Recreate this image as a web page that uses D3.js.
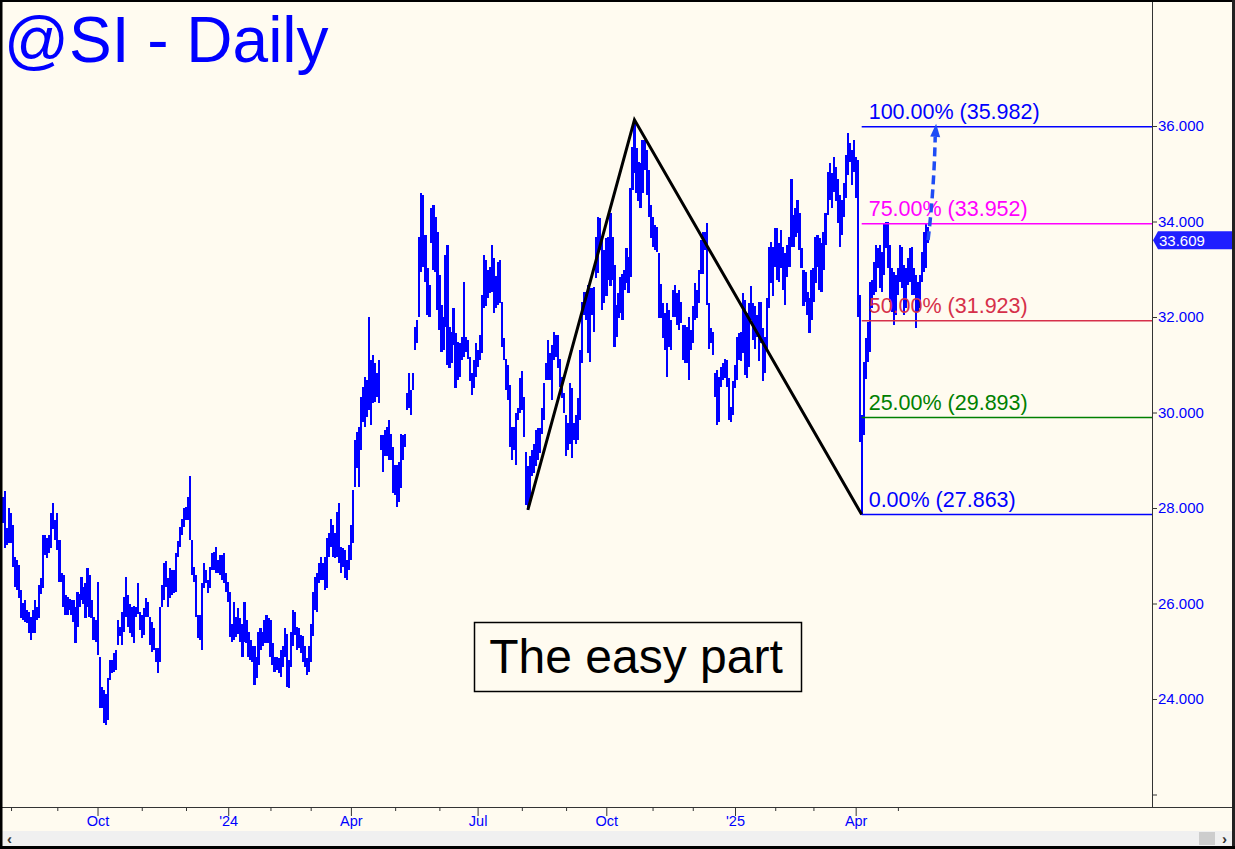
<!DOCTYPE html>
<html>
<head>
<meta charset="utf-8">
<script src="https://cdn.jsdelivr.net/npm/d3@7"></script>
<style>
  body { margin: 0; background: #fffbf0; overflow: hidden; }
  svg { display: block; }
  text { font-family: "Liberation Sans", Arial, sans-serif; }
</style>
</head>
<body>
<div id="chart"></div>
<script>
// ---- data ----
const startDate = "2023-07-26";
// sessions with no daily bar
const holidays = ["2023-09-04", "2024-01-01", "2024-01-15", "2024-02-19", "2024-03-29",
  "2024-05-27", "2024-06-19", "2024-07-04", "2024-09-02", "2024-11-28", "2024-12-25",
  "2025-01-01", "2025-01-09", "2025-01-20", "2025-02-17", "2025-04-18"];

const hi = [
  28.24, 28.36, 27.58, 28.00, 27.90, 27.64, 26.97, 26.91, 26.81, 26.28,
  26.01, 26.07, 25.86, 25.82, 25.72, 25.86, 26.07, 25.93, 26.39, 26.53,
  27.43, 27.43, 27.37, 27.43, 27.90, 28.10, 27.75, 27.90, 27.33, 26.63,
  26.60, 26.18, 26.14, 26.10, 26.07, 26.07, 25.93, 26.24, 26.20, 26.56,
  26.35, 26.42, 26.74, 26.60, 26.07, 25.72, 25.65, 26.45, 24.88, 24.25,
  24.18, 24.11, 24.44, 24.82, 24.82, 24.96, 25.03, 25.65, 25.51, 25.82,
  26.14, 26.56, 26.18, 26.00, 25.93, 25.95, 25.93, 26.42, 25.83, 25.76,
  25.90, 26.11, 26.04, 25.72, 25.62, 25.48, 25.06, 25.06, 25.93, 26.39,
  26.84, 26.88, 26.53, 26.74, 26.70, 26.70, 27.05, 27.30, 27.61, 27.78,
  27.99, 28.03, 28.24, 28.66, 27.33, 26.77, 26.60, 25.76, 25.76, 26.42,
  26.84, 26.70, 26.49, 26.77, 27.05, 27.08, 27.19, 26.91, 27.01, 27.01,
  27.05, 26.63, 26.46, 26.25, 25.58, 26.04, 25.72, 25.90, 25.69, 25.58,
  26.04, 25.65, 25.41, 25.24, 25.10, 25.10, 24.89, 25.41, 25.48, 25.41,
  25.65, 25.76, 25.69, 25.65, 25.17, 24.89, 24.89, 24.85, 25.03, 25.10,
  25.48, 25.37, 24.82, 25.41, 25.86, 25.83, 25.51, 25.48, 25.34, 25.31,
  25.10, 24.85, 25.10, 25.58, 26.25, 26.56, 26.63, 26.84, 26.98, 26.84,
  26.98, 27.37, 27.47, 27.78, 27.64, 27.47, 27.92, 28.10, 27.19, 27.16,
  27.12, 26.91, 27.23, 27.64, 28.38, 29.42, 29.60, 29.70, 30.33, 30.54,
  30.75, 30.68, 32.00, 31.10, 31.20, 31.03, 30.82, 31.10, 29.53, 29.53,
  29.63, 29.70, 29.84, 29.56, 29.28, 28.90, 28.90, 28.97, 29.56, 29.53,
  29.56, 30.40, 30.82, 30.47, 30.82, 31.80, 31.94, 33.68, 34.59, 34.55,
  33.72, 33.02, 32.67, 34.28, 34.35, 34.10, 33.79, 32.88, 32.25, 32.01,
  33.30, 33.51, 31.80, 31.69, 32.18, 31.66, 31.48, 31.45, 31.59, 32.74,
  31.59, 31.52, 31.17, 30.82, 31.10, 31.45, 31.31, 31.62, 32.46, 33.30,
  33.20, 32.98, 33.05, 33.51, 33.23, 32.85, 33.16, 33.20, 32.32, 31.55,
  31.13, 30.99, 30.58, 29.70, 29.70, 29.98, 30.09, 30.72, 30.86, 30.33,
  29.18, 28.87, 29.08, 29.22, 29.35, 29.63, 29.67, 29.67, 30.09, 30.61,
  31.03, 31.52, 31.24, 31.41, 31.69, 31.62, 31.62, 31.13, 30.75, 30.40,
  29.95, 29.77, 30.61, 30.51, 29.77, 29.95, 30.30, 31.31, 32.32, 32.53,
  32.53, 32.67, 32.60, 32.60, 32.63, 33.68, 34.10, 34.07, 33.65, 33.40,
  33.65, 33.68, 34.17, 33.68, 33.09, 32.25, 32.50, 32.84, 32.91, 32.98,
  33.44, 33.26, 34.70, 35.57, 36.13, 35.53, 35.25, 35.22, 35.71, 35.71,
  35.50, 35.08, 34.34, 34.10, 33.93, 33.89, 33.33, 32.70, 32.29, 32.08,
  32.29, 32.15, 31.94, 32.57, 32.67, 32.50, 32.57, 32.32, 31.83, 31.83,
  31.80, 32.01, 31.73, 32.22, 32.71, 32.57, 32.98, 33.61, 33.79, 33.79,
  33.96, 32.29, 31.76, 31.69, 30.82, 30.89, 30.75, 30.96, 31.03, 31.13,
  31.10, 30.72, 30.12, 30.65, 31.00, 31.59, 31.66, 31.69, 32.50, 32.36,
  32.08, 32.29, 32.64, 32.29, 32.22, 32.04, 32.32, 32.32, 31.76, 31.59,
  32.39, 33.47, 33.58, 33.47, 33.86, 33.86, 33.54, 33.82, 33.47, 33.33,
  33.51, 33.68, 34.90, 34.14, 34.28, 34.45, 34.17, 33.44, 32.98, 32.95,
  32.53, 32.39, 32.98, 33.02, 33.68, 33.72, 33.65, 33.54, 33.79, 34.17,
  35.04, 35.22, 35.01, 35.36, 35.15, 34.90, 34.56, 34.45, 34.80, 35.39,
  35.85, 35.64, 35.50, 35.71, 35.36, 35.29, 32.46, 29.95, 31.06, 31.55,
  31.90, 32.74, 32.77, 33.16, 33.51, 33.44, 33.51, 33.37, 33.96, 33.99,
  33.99, 33.51, 33.02, 32.95, 32.88, 33.02, 33.51, 33.47, 33.09, 33.02,
  33.23, 33.44, 33.47, 33.02, 32.88, 32.74, 32.88, 33.37, 33.79, 33.96, 33.89
];

const lo = [
  27.69, 27.16, 27.23, 27.27, 27.27, 26.76, 26.35, 26.28, 26.12, 25.70,
  25.65, 25.61, 25.59, 25.38, 25.24, 25.38, 25.38, 25.65, 25.70, 26.20,
  26.32, 27.02, 26.95, 27.06, 27.16, 27.55, 27.33, 27.12, 26.45, 26.45,
  25.93, 25.76, 25.76, 25.86, 25.76, 25.61, 25.17, 25.51, 25.93, 26.07,
  26.00, 25.69, 25.93, 25.72, 25.69, 25.24, 25.20, 24.92, 23.81, 23.81,
  23.50, 23.46, 23.57, 24.40, 24.54, 24.57, 24.61, 25.13, 25.31, 25.13,
  25.40, 25.72, 25.51, 25.38, 25.30, 25.18, 25.72, 25.79, 25.44, 25.27,
  25.34, 25.72, 25.72, 25.13, 24.99, 25.03, 24.78, 24.54, 24.78, 25.93,
  26.07, 26.35, 25.93, 26.11, 26.18, 26.21, 26.25, 26.98, 27.19, 27.43,
  27.61, 27.75, 27.75, 27.33, 26.60, 26.46, 25.72, 25.27, 25.23, 25.03,
  26.32, 26.42, 26.21, 26.32, 26.70, 26.70, 26.63, 26.63, 26.60, 26.49,
  26.42, 26.25, 26.04, 25.30, 25.20, 25.24, 25.30, 25.37, 25.20, 24.89,
  25.20, 25.17, 24.89, 24.82, 24.78, 24.29, 24.43, 24.71, 25.03, 25.10,
  25.17, 25.17, 25.17, 24.89, 24.71, 24.57, 24.61, 24.54, 24.47, 24.68,
  24.89, 24.26, 24.22, 24.68, 25.10, 25.34, 25.03, 25.06, 24.96, 24.78,
  24.68, 24.50, 24.57, 24.78, 25.31, 25.86, 25.83, 26.42, 26.49, 26.49,
  26.28, 26.32, 26.98, 27.19, 26.98, 26.95, 26.98, 26.84, 26.63, 26.77,
  26.53, 26.49, 26.70, 26.91, 27.26, 28.45, 28.83, 28.45, 29.21, 29.81,
  29.70, 29.91, 30.05, 29.74, 30.19, 30.23, 30.33, 30.19, 29.22, 28.76,
  29.08, 29.08, 29.00, 29.00, 28.31, 28.27, 28.03, 28.13, 28.41, 29.00,
  29.28, 30.05, 30.09, 29.95, 30.47, 31.31, 31.45, 32.00, 32.95, 33.05,
  32.74, 32.04, 32.00, 33.54, 32.98, 32.95, 32.15, 31.73, 31.27, 31.31,
  31.80, 30.99, 30.93, 31.03, 31.41, 30.51, 30.68, 30.75, 31.10, 31.17,
  31.27, 31.13, 30.65, 30.37, 30.51, 30.75, 30.96, 31.10, 31.24, 32.18,
  32.22, 32.39, 32.50, 32.53, 32.08, 32.18, 32.25, 32.29, 31.38, 31.10,
  30.47, 30.26, 29.28, 29.00, 29.22, 28.90, 29.84, 29.98, 30.05, 29.49,
  28.06, 27.96, 28.10, 28.66, 28.73, 28.87, 29.00, 29.15, 29.56, 29.84,
  30.68, 30.68, 30.68, 30.26, 31.10, 31.17, 30.93, 30.54, 30.30, 29.98,
  29.08, 29.22, 29.35, 29.04, 29.42, 29.35, 29.42, 29.84, 31.03, 32.04,
  31.94, 31.24, 31.06, 32.04, 31.69, 32.81, 32.92, 33.40, 32.15, 32.29,
  32.43, 32.78, 32.64, 32.78, 31.38, 31.59, 31.97, 32.08, 31.94, 32.57,
  32.71, 32.50, 32.84, 34.66, 35.01, 34.59, 34.42, 34.28, 34.59, 35.08,
  34.55, 34.10, 33.65, 33.47, 33.40, 33.37, 31.97, 31.97, 31.55, 31.31,
  30.75, 31.38, 31.31, 32.01, 32.01, 31.83, 31.73, 31.87, 31.10, 31.03,
  31.03, 30.68, 31.31, 31.45, 31.94, 31.97, 32.29, 32.91, 32.91, 33.40,
  32.25, 31.34, 31.45, 31.20, 30.33, 29.74, 29.81, 30.54, 30.68, 30.72,
  30.54, 29.84, 29.81, 29.95, 30.51, 30.68, 31.10, 31.07, 31.24, 30.79,
  30.72, 30.96, 31.94, 31.52, 31.34, 31.59, 31.07, 31.45, 30.65, 30.82,
  31.31, 32.18, 32.71, 32.43, 33.05, 32.78, 32.74, 33.02, 32.57, 32.25,
  32.84, 33.05, 33.47, 33.47, 33.68, 33.75, 33.40, 33.02, 32.22, 32.32,
  32.04, 31.66, 31.94, 32.32, 32.71, 33.05, 32.57, 32.53, 32.98, 33.51,
  34.14, 34.45, 34.28, 34.62, 34.42, 33.96, 33.47, 33.72, 34.10, 34.49,
  34.97, 35.25, 34.76, 35.04, 34.49, 32.00, 29.39, 27.86, 29.53, 30.71,
  31.06, 31.27, 32.18, 32.46, 32.53, 33.02, 32.60, 32.53, 32.88, 33.44,
  33.02, 32.32, 32.11, 31.83, 32.04, 32.46, 32.74, 32.60, 32.04, 32.18,
  32.67, 32.74, 32.46, 32.46, 31.76, 32.11, 32.18, 32.74, 32.95, 33.02, 33.54
];

const lastClose = 33.609;

// projection levels
const fibPct = ["0.00%", "25.00%", "50.00%", "75.00%", "100.00%"];
const fibVal = [27.863, 29.893, 31.923, 33.952, 35.982];

// swing points (bar index, price) for the black lines
const swingIdx = [261, 314, 427];
const swingPrice = [27.96, 36.13, 27.863];

// dashed arrow: from last bar to target
const arrowIdx = [460, 464];
const arrowPrice = [33.609, 35.982];

const priceTicks = [22, 24, 26, 28, 30, 32, 34, 36];

// ---- build trading calendar ----
const fmtDay = d3.timeFormat("%Y-%m-%d");
const dates = [];
let day = new Date(startDate + "T12:00:00");
while (dates.length < hi.length) {
  const dow = day.getDay();
  if (dow !== 0 && dow !== 6 && !holidays.includes(fmtDay(day))) dates.push(new Date(day));
  day.setDate(day.getDate() + 1);
}

const monthTicks = [];
dates.forEach((dt, i) => {
  if (i > 0 && dt.getMonth() !== dates[i - 1].getMonth()) {
    monthTicks.push({ i: i, m: dt.getMonth(), yr: dt.getFullYear() });
  }
});
const majorTicks = monthTicks.filter(t => t.m % 3 === 0);
const minorTicks = monthTicks.filter(t => t.m % 3 !== 0);
const monthName = ["", "", "", "Apr", "", "", "Jul", "", "", "Oct"];
const tickLabel = {};
majorTicks.forEach(t => {
  tickLabel[t.i] = t.m === 0 ? "'" + String(t.yr).slice(2) : monthName[t.m];
});

// ---- svg ----
const W = 1235, H = 849;
const axisX = 1152, axisY = 807;

const svg = d3.select("#chart").append("svg")
  .attr("width", W)
  .attr("height", H);

svg.append("rect")
  .attr("width", W).attr("height", H)
  .attr("fill", "#fffbf0");

// scales: one bar every ~2px
const x = d3.scaleLinear().domain([0, 572]).range([3, 3 + 2.011 * 572]);
const y = d3.scaleLinear().domain([28, 36]).range([508, 126]);

// Title
svg.append("text")
  .attr("x", 4)
  .attr("y", 62)
  .style("font-size", "64px")
  .attr("fill", "#0000ff")
  .text("@SI - Daily");

// Price bars
svg.append("g")
  .selectAll("rect")
  .data(hi)
  .join("rect")
  .attr("x", (d, i) => x(i) - 1)
  .attr("width", 2.2)
  .attr("y", d => y(d))
  .attr("height", (d, i) => Math.max(1, y(lo[i]) - y(d)))
  .attr("fill", "#0000ff")
  .attr("shape-rendering", "crispEdges");

// Black swing lines
const swingLine = d3.line()
  .x(d => x(d))
  .y((d, k) => y(swingPrice[k]));
svg.append("path")
  .attr("d", swingLine(swingIdx))
  .attr("fill", "none")
  .attr("stroke", "#000")
  .attr("stroke-width", 3)
  .attr("stroke-linejoin", "miter");

// Projection levels
const fibColor = {
  "0.00%": "#0000ff",
  "25.00%": "#008000",
  "50.00%": "#d6304a",
  "75.00%": "#ff00ff",
  "100.00%": "#0000ff"
};
const fibStart = x(427);
const fib = svg.append("g");
fibVal.forEach((v, k) => {
  fib.append("line")
    .attr("x1", fibStart).attr("x2", axisX)
    .attr("y1", y(v)).attr("y2", y(v))
    .attr("stroke", fibColor[fibPct[k]])
    .attr("stroke-width", 1.5);
  fib.append("text")
    .attr("x", fibStart + 7)
    .attr("y", y(v) - 8)
    .style("font-size", "21.5px")
    .attr("fill", fibColor[fibPct[k]])
    .text(fibPct[k] + " (" + v.toFixed(3) + ")");
});

// Dashed arrow to 100% level
const ax0 = x(arrowIdx[0]), ay0 = y(arrowPrice[0]);
const ax1 = x(arrowIdx[1]), ay1 = y(arrowPrice[1]) - 3;
const ang = Math.atan2(ay1 - ay0, ax1 - ax0);
const headLen = 13;
const bx = ax1 - headLen * Math.cos(ang), by = ay1 - headLen * Math.sin(ang);
svg.append("path")
  .attr("d", `M${ax0},${ay0} Q${ax0 + 6},${(ay0 + by) / 2} ${bx},${by}`)
  .attr("fill", "none")
  .attr("stroke", "#1e4cf5")
  .attr("stroke-width", 3.5)
  .attr("stroke-dasharray", "9,5");
const px = Math.cos(ang + Math.PI / 2), py = Math.sin(ang + Math.PI / 2);
svg.append("path")
  .attr("d", `M${ax1},${ay1} L${bx + 5 * px},${by + 5 * py} L${bx - 5 * px},${by - 5 * py} Z`)
  .attr("fill", "#1e4cf5");

// Annotation box
const note = svg.append("g");
note.append("rect")
  .attr("x", 474.5).attr("y", 622.5)
  .attr("width", 327).attr("height", 69)
  .attr("fill", "#fffbf0")
  .attr("stroke", "#000")
  .attr("stroke-width", 1.5);
note.append("text")
  .attr("x", 636)
  .attr("y", 673)
  .attr("text-anchor", "middle")
  .style("font-size", "48px")
  .attr("fill", "#000")
  .text("The easy part");

// Right price axis
const yAxis = d3.axisRight(y)
  .tickValues(priceTicks)
  .tickSize(5)
  .tickPadding(1)
  .tickFormat(d => d >= 24 ? d.toFixed(3) : "");
const yg = svg.append("g")
  .attr("transform", `translate(${axisX},0)`)
  .call(yAxis);
yg.select(".domain").remove();
yg.selectAll("line").attr("stroke", "#333");
yg.selectAll("text")
  .style("font-size", "15px")
  .attr("fill", "#0000ff");

svg.append("line")
  .attr("x1", axisX + 0.5).attr("x2", axisX + 0.5)
  .attr("y1", 0).attr("y2", axisY)
  .attr("stroke", "#333");

// Last price tag
const ly = y(lastClose);
svg.append("path")
  .attr("d", `M${axisX + 1},${ly} L${axisX + 6},${ly - 9} L1232,${ly - 9} L1232,${ly + 9} L${axisX + 6},${ly + 9} Z`)
  .attr("fill", "#1f1fff");
svg.append("text")
  .attr("x", axisX + 7)
  .attr("y", ly + 5.5)
  .style("font-size", "15px")
  .attr("fill", "#fff")
  .text(lastClose.toFixed(3));

// Bottom date axis
svg.append("line")
  .attr("x1", 0).attr("x2", W)
  .attr("y1", axisY + 0.5).attr("y2", axisY + 0.5)
  .attr("stroke", "#333");

const xMajor = d3.axisBottom(x)
  .tickValues(majorTicks.map(t => t.i))
  .tickSize(9)
  .tickPadding(0)
  .tickFormat(d => tickLabel[d]);
const xg = svg.append("g")
  .attr("transform", `translate(0,${axisY})`)
  .call(xMajor);
xg.select(".domain").remove();
xg.selectAll("line").attr("stroke", "#333");
xg.selectAll("text")
  .style("font-size", "14.5px")
  .attr("fill", "#0000ff");

const xMinor = d3.axisBottom(x)
  .tickValues(minorTicks.map(t => t.i))
  .tickSize(4)
  .tickFormat("");
const xmg = svg.append("g")
  .attr("transform", `translate(0,${axisY})`)
  .call(xMinor);
xmg.select(".domain").remove();
xmg.selectAll("line").attr("stroke", "#333");

// Scrollbar
svg.append("rect")
  .attr("x", 2).attr("y", 831)
  .attr("width", W - 4).attr("height", 15)
  .attr("fill", "#f0f0f0");
svg.append("rect")
  .attr("x", 1199).attr("y", 832)
  .attr("width", 16).attr("height", 13)
  .attr("fill", "#cdcdcd");
svg.append("text")
  .attr("x", 7).attr("y", 844)
  .style("font-size", "15px")
  .style("font-weight", "bold")
  .attr("fill", "#333")
  .text("‹");
svg.append("text")
  .attr("x", 1222).attr("y", 844)
  .style("font-size", "15px")
  .style("font-weight", "bold")
  .attr("fill", "#333")
  .text("›");

// Window frame
svg.append("rect").attr("x", 0).attr("y", 0).attr("width", W).attr("height", 2).attr("fill", "#000");
svg.append("rect").attr("x", 0).attr("y", 0).attr("width", 2.5).attr("height", H).attr("fill", "#000");
svg.append("rect").attr("x", 1232).attr("y", 0).attr("width", 3).attr("height", H).attr("fill", "#222");
svg.append("rect").attr("x", 0).attr("y", 846).attr("width", W).attr("height", 3).attr("fill", "#000");
</script>
</body>
</html>
